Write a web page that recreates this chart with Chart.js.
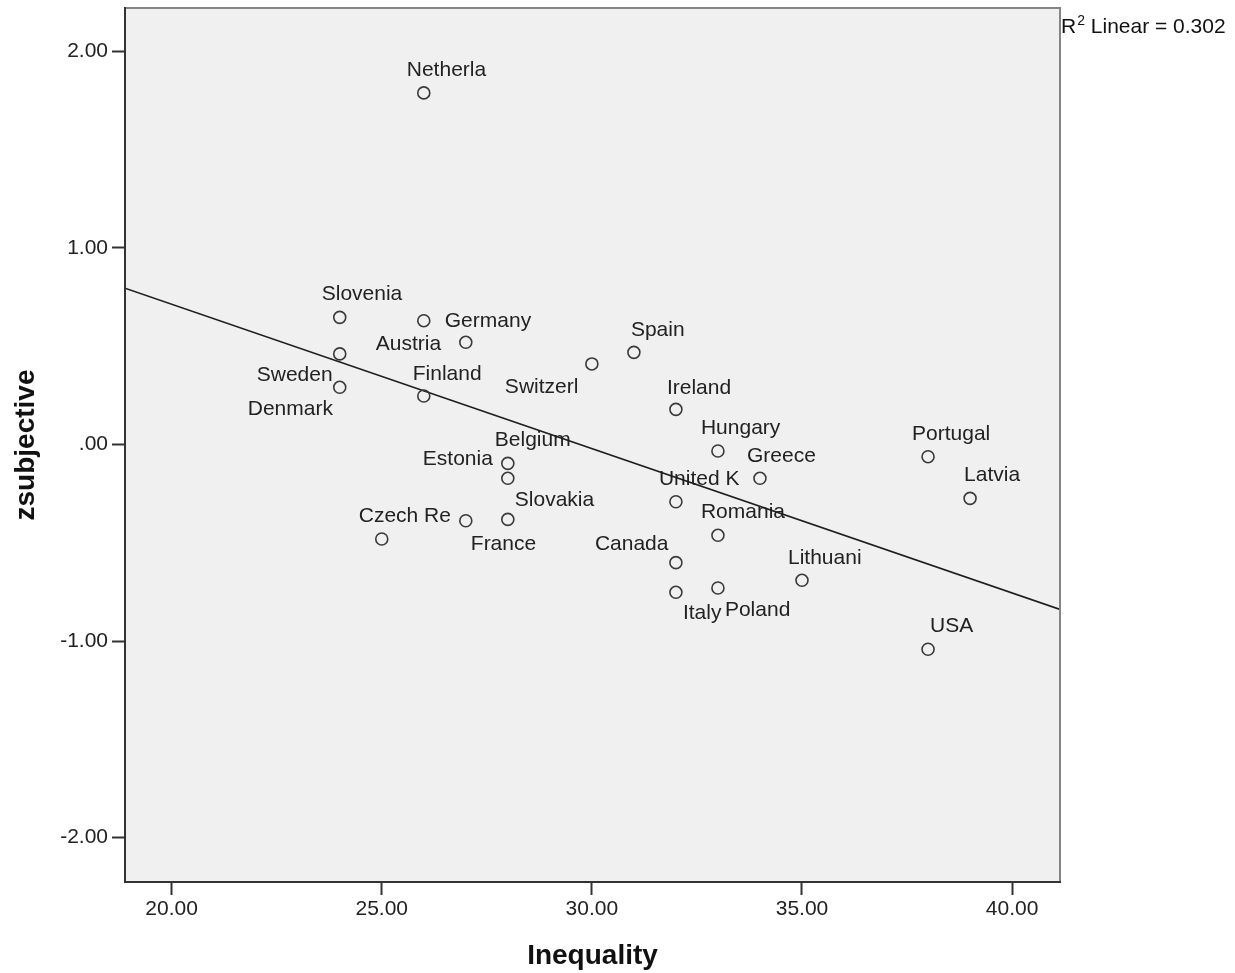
<!DOCTYPE html>
<html>
<head>
<meta charset="utf-8">
<script src="https://cdn.jsdelivr.net/npm/chart.js@4"></script>
<style>
  html, body { margin: 0; padding: 0; background: #fff; }
  #wrap { width: 1235px; height: 973px; }
</style>
</head>
<body>
<div id="wrap"><canvas id="scatter" width="1235" height="973"></canvas></div>
<script>
// Inequality vs zsubjective scatter with linear fit

const countries = ['Netherla', 'Slovenia', 'Germany', 'Austria', 'Denmark', 'Sweden', 'Finland',
    'Switzerl', 'Spain', 'Ireland', 'Hungary', 'Greece', 'Portugal', 'Latvia', 'Belgium',
    'Estonia', 'Slovakia', 'France', 'Czech Re', 'United K', 'Romania', 'Canada', 'Italy',
    'Poland', 'Lithuani', 'USA'];
const inequality = [26, 24, 26, 27, 24, 24, 26, 30, 31, 32, 33, 34, 38, 39, 28,
    28, 28, 27, 25, 32, 33, 32, 32, 33, 35, 38];
const zsubjective = [1.789, 0.647, 0.630, 0.520, 0.461, 0.291, 0.247, 0.410, 0.469, 0.179,
    -0.033, -0.172, -0.062, -0.274, -0.096, -0.172, -0.381, -0.388, -0.481, -0.291,
    -0.462, -0.601, -0.752, -0.730, -0.691, -1.042];

// fit line end points
const fitX = [18.89, 41.14];
const fitY = [0.795, -0.839];
const rSquared = '0.302';

const xTicks = [20, 25, 30, 35, 40];
const yTicks = [-2, -1, 0, 1, 2];

// label placement (px from the marker: left edge / baseline)
const labelDx = [-17, -18, 21, -90, -92, -83, -11, -87, -3, -9, -17, -13, -16, -6, -13,
    -85, 7, 5, -23, -17, -17, -81, 7, 7, -14, 2];
const labelDy = [-17, -17, 6, 8, 61, -6, -16, 29, -16, -15, -17, -16, -17, -17, -17,
    -13, -13, 29, -17, -17, -17, -13, 27, 28, -16, -17];

const FONT = '"Liberation Sans", Arial, sans-serif';

const plotBackground = {
    id: 'plotBackground',
    beforeDraw(chart) {
        const { ctx, chartArea: a } = chart;
        ctx.save();
        ctx.fillStyle = '#f0f0f0';
        ctx.fillRect(a.left, a.top, a.right - a.left, a.bottom - a.top);
        ctx.restore();
    }
};

const pointLabels = {
    id: 'pointLabels',
    beforeDatasetsDraw(chart) {
        const { ctx, scales } = chart;
        ctx.save();
        ctx.font = '21px ' + FONT;
        ctx.fillStyle = '#222';
        ctx.textAlign = 'left';
        ctx.textBaseline = 'alphabetic';
        countries.forEach((name, i) => {
            const px = scales.x.getPixelForValue(inequality[i]) + labelDx[i];
            const py = scales.y.getPixelForValue(zsubjective[i]) + labelDy[i];
            ctx.fillText(name, px, py);
        });
        ctx.restore();
    }
};

const frameAndTitles = {
    id: 'frameAndTitles',
    afterDraw(chart) {
        const { ctx, chartArea: a } = chart;
        ctx.save();
        // top / right edges (lighter), left / bottom (dark)
        ctx.lineWidth = 2;
        ctx.strokeStyle = '#858585';
        ctx.beginPath();
        ctx.moveTo(a.left, a.top);
        ctx.lineTo(a.right, a.top);
        ctx.lineTo(a.right, a.bottom);
        ctx.stroke();
        ctx.strokeStyle = '#333';
        ctx.beginPath();
        ctx.moveTo(a.left, a.top - 1);
        ctx.lineTo(a.left, a.bottom);
        ctx.lineTo(a.right + 1, a.bottom);
        ctx.stroke();

        // axis titles
        ctx.fillStyle = '#111';
        ctx.font = 'bold 28px ' + FONT;
        ctx.textAlign = 'center';
        ctx.textBaseline = 'alphabetic';
        ctx.fillText('Inequality', (a.left + a.right) / 2, 964);

        ctx.translate(34, (a.top + a.bottom) / 2);
        ctx.rotate(-Math.PI / 2);
        ctx.fillText('zsubjective', 0, 0);
        ctx.setTransform(1, 0, 0, 1, 0, 0);

        // R² annotation
        ctx.font = '21px ' + FONT;
        ctx.textAlign = 'left';
        let x = a.right + 1;
        ctx.fillText('R', x, 33);
        x += ctx.measureText('R').width;
        ctx.font = '14px ' + FONT;
        ctx.fillText('2', x + 1, 25);
        x += ctx.measureText('2').width + 1;
        ctx.font = '21px ' + FONT;
        ctx.fillText(' Linear = ' + rSquared, x, 33);
        ctx.restore();
    }
};

const axisTick = {
    drawOnChartArea: false,
    drawTicks: true,
    tickLength: 13,
    tickWidth: 2,
    color: '#333'
};

function noMargins(s) {
    s.paddingTop = 0;
    s.paddingBottom = 0;
    s.paddingLeft = 0;
    s.paddingRight = 0;
}

new Chart(document.getElementById('scatter'), {
    type: 'scatter',
    data: {
        datasets: [{
            data: inequality.map((v, i) => ({ x: v, y: zsubjective[i] })),
            pointStyle: 'circle',
            pointRadius: 6,
            pointHoverRadius: 6,
            borderWidth: 1.6,
            borderColor: '#3a3a3a',
            backgroundColor: 'rgba(0,0,0,0)'
        }, {
            type: 'line',
            data: fitX.map((v, i) => ({ x: v, y: fitY[i] })),
            borderColor: '#1e1e1e',
            borderWidth: 1.6,
            pointRadius: 0,
            fill: false
        }]
    },
    options: {
        responsive: false,
        animation: false,
        events: [],
        layout: { padding: { top: 8, right: 175, left: 0, bottom: 0 } },
        plugins: {
            legend: { display: false },
            tooltip: { enabled: false }
        },
        scales: {
            x: {
                type: 'linear',
                min: 18.89,
                max: 41.14,
                afterBuildTicks: (s) => { s.ticks = xTicks.map((v) => ({ value: v })); },
                afterFit: (s) => { s.height = 91; noMargins(s); },
                border: { display: false },
                grid: axisTick,
                ticks: {
                    autoSkip: false,
                    maxRotation: 0,
                    padding: 2,
                    color: '#222',
                    font: { family: FONT, size: 21 },
                    callback: (v) => v.toFixed(2)
                }
            },
            y: {
                type: 'linear',
                min: -2.226,
                max: 2.221,
                afterBuildTicks: (s) => { s.ticks = yTicks.map((v) => ({ value: v })); },
                afterFit: (s) => { s.width = 125; noMargins(s); },
                border: { display: false },
                grid: axisTick,
                ticks: {
                    autoSkip: false,
                    padding: 4,
                    color: '#222',
                    font: { family: FONT, size: 21 },
                    callback: (v) => (v === 0 ? '.00' : v.toFixed(2))
                }
            }
        }
    },
    plugins: [plotBackground, pointLabels, frameAndTitles]
});
</script>
</body>
</html>
